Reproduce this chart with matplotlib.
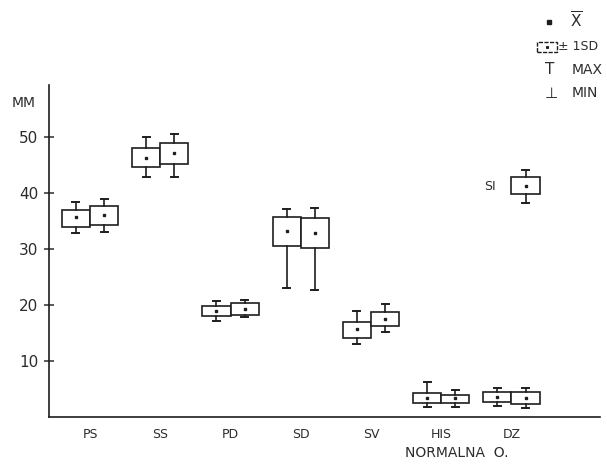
import numpy as np
import matplotlib
matplotlib.use("Agg")
import matplotlib.pyplot as plt
from matplotlib.lines import Line2D
from matplotlib.patches import Rectangle

plt.rcParams['font.family'] = ['DejaVu Sans']
plt.rcParams['mathtext.fontset'] = 'dejavusans'

cats = ['PS', 'SS', 'PD', 'SD', 'SV', 'HIS', 'DZ']

mean_a = [35.7, 46.3, 19.0, 33.3, 15.8, 3.4, 3.6]
sd_lo_a = [34.0, 44.6, 18.0, 30.6, 14.1, 2.5, 2.7]
sd_hi_a = [37.0, 48.1, 19.9, 35.7, 17.0, 4.3, 4.5]
max_a = [38.4, 50.0, 20.8, 37.1, 19.0, 6.2, 5.2]
min_a = [32.9, 42.9, 17.1, 23.1, 13.1, 1.8, 1.9]

mean_b = [36.1, 47.1, 19.3, 32.8, 17.5, 3.4, 3.4]
sd_lo_b = [34.3, 45.2, 18.3, 30.1, 16.2, 2.5, 2.4]
sd_hi_b = [37.6, 49.0, 20.4, 35.5, 18.8, 4.0, 4.5]
max_b = [39.0, 50.5, 20.9, 37.4, 20.2, 4.8, 5.2]
min_b = [33.0, 42.9, 17.8, 22.7, 15.1, 1.8, 1.6]

# extra box "SI" drawn above DZ
si_mean, si_lo, si_hi, si_max, si_min = 41.2, 39.8, 42.9, 44.2, 38.2

ink = '#1e1e1e'
txt = '#2c2c2c'


def make_stats(mean, lo, hi, mx, mn):
    return [dict(med=m, mean=m, q1=l, q3=h, whislo=b, whishi=t)
            for m, l, h, t, b in zip(mean, lo, hi, mx, mn)]


W, H = 607, 465
fig = plt.figure(figsize=(W / 100, H / 100), dpi=100)
fig.patch.set_facecolor('white')
ax = fig.add_axes([49 / W, 1 - 417 / H, (600 - 49) / W, 332 / H])

x = np.arange(len(cats))
style = dict(widths=0.4, capwidths=0.1, showmeans=True, showfliers=False,
             patch_artist=True,
             boxprops=dict(facecolor='white', edgecolor=ink, linewidth=1.2),
             whiskerprops=dict(color=ink, linewidth=1.2),
             capprops=dict(color=ink, linewidth=1.4),
             medianprops=dict(linewidth=0),
             meanprops=dict(marker='s', markersize=1.6, markerfacecolor=ink,
                            markeredgecolor=ink))

ax.bxp(make_stats(mean_a, sd_lo_a, sd_hi_a, max_a, min_a),
       positions=x - 0.2, **style)
ax.bxp(make_stats(mean_b, sd_lo_b, sd_hi_b, max_b, min_b),
       positions=x + 0.2, **style)
ax.bxp(make_stats([si_mean], [si_lo], [si_hi], [si_max], [si_min]),
       positions=[x[-1] + 0.2], **style)
ax.text(x[-1] - 0.3, si_mean, 'SI', ha='center', va='center',
        fontsize=9, color=txt)

ax.set_xlim(-0.584, 7.26)
ax.set_ylim(0, 59.3)
ax.set_xticks(x)
ax.set_xticklabels(cats)
ax.set_yticks([10, 20, 30, 40, 50])
ax.tick_params(axis='x', length=0, pad=8, labelsize=9, colors=txt)
ax.tick_params(axis='y', direction='inout', length=7, width=1.1, pad=4,
               labelsize=11, colors=txt)
for s in ['top', 'right']:
    ax.spines[s].set_visible(False)
for s in ['left', 'bottom']:
    ax.spines[s].set_color(ink)
    ax.spines[s].set_linewidth(1.2)


def px(xp, yp):
    return xp / W, 1 - yp / H


fig.text(*px(24, 103), 'MM', ha='center', va='center', fontsize=10, color=txt)
fig.text(*px(457, 453), 'NORMALNA  O.', ha='center', va='center',
         fontsize=10, color=txt)

# hand-made key in the top right corner
fig.add_artist(Line2D([549 / W], [1 - 22 / H], marker='s', markersize=2.2,
                      color=ink, transform=fig.transFigure))
fig.text(*px(570, 21), r'$\overline{\mathrm{X}}$', ha='left', va='center',
         fontsize=11, color=txt)
fig.add_artist(Rectangle(px(537, 52), 20 / W, 10 / H, fill=False,
                         edgecolor=ink, linewidth=1.0, linestyle=(0, (3, 1)),
                         transform=fig.transFigure))
fig.add_artist(Line2D([547 / W], [1 - 47 / H], marker='s', markersize=1.2,
                      color=ink, transform=fig.transFigure))
fig.text(*px(558, 47), '± 1SD', ha='left', va='center', fontsize=9, color=txt)
fig.text(*px(550, 70), 'T', ha='center', va='center', fontsize=11, color=txt)
fig.text(*px(572, 70), 'MAX', ha='left', va='center', fontsize=10, color=txt)
fig.text(*px(551, 93), '⊥', ha='center', va='center', fontsize=11, color=txt)
fig.text(*px(572, 93), 'MIN', ha='left', va='center', fontsize=10, color=txt)

fig.savefig('out.png', dpi=100)
